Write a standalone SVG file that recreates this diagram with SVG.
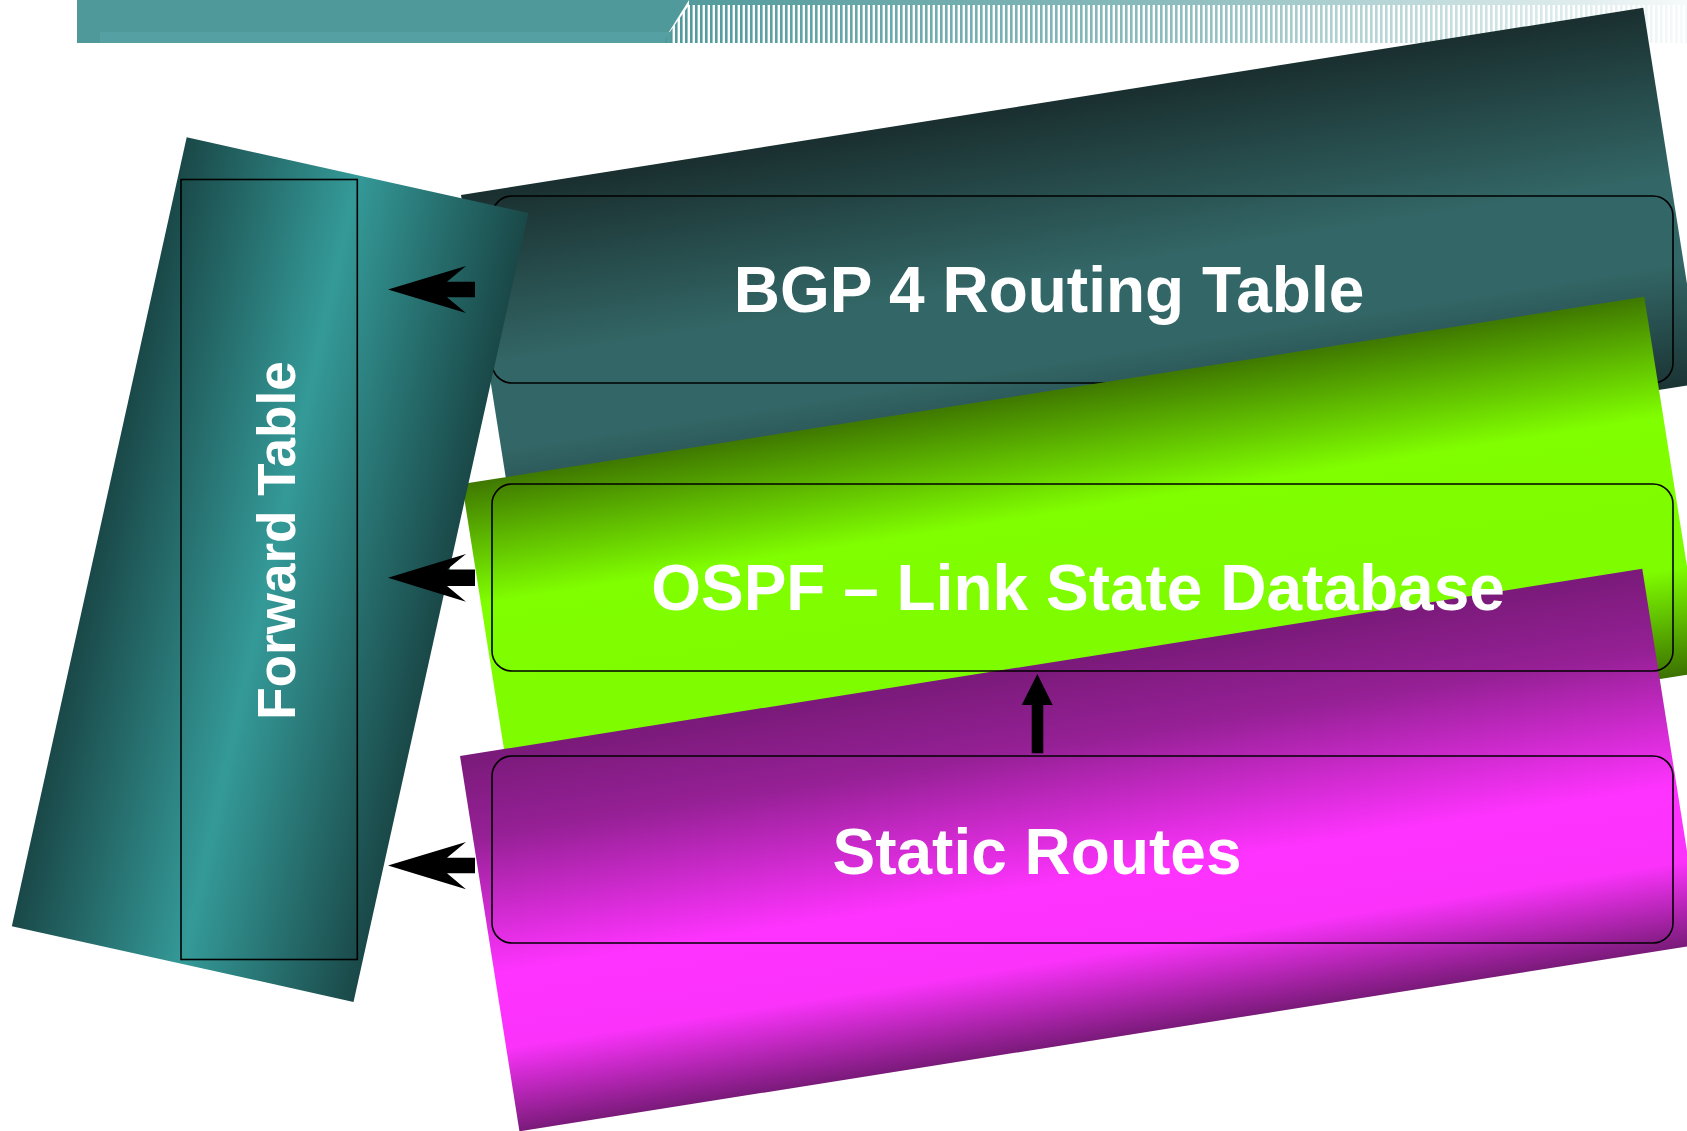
<svg xmlns="http://www.w3.org/2000/svg" width="1687" height="1131" viewBox="0 0 1687 1131">
  <defs>
    <linearGradient id="gBgp" x1="0" y1="0" x2="0" y2="1">
      <stop offset="0" stop-color="#1a2f2f"/>
      <stop offset="0.45" stop-color="#336666"/>
      <stop offset="0.68" stop-color="#336666"/>
      <stop offset="1" stop-color="#1b3434"/>
    </linearGradient>
    <linearGradient id="gOspf" x1="0" y1="0" x2="0" y2="1">
      <stop offset="0" stop-color="#3f7800"/>
      <stop offset="0.32" stop-color="#80ff00"/>
      <stop offset="0.72" stop-color="#7efc00"/>
      <stop offset="1" stop-color="#3c7200"/>
    </linearGradient>
    <linearGradient id="gStatic" x1="0" y1="0" x2="0" y2="1">
      <stop offset="0" stop-color="#7a1a7a"/>
      <stop offset="0.22" stop-color="#962096"/>
      <stop offset="0.58" stop-color="#ff33ff"/>
      <stop offset="0.78" stop-color="#fa32fa"/>
      <stop offset="1" stop-color="#7a1a7a"/>
    </linearGradient>
    <linearGradient id="gFwd" x1="0" y1="0" x2="1" y2="0">
      <stop offset="0" stop-color="#1a4848"/>
      <stop offset="0.5" stop-color="#349a98"/>
      <stop offset="1" stop-color="#1a4848"/>
    </linearGradient>
    <linearGradient id="gFade" x1="0" y1="0" x2="1" y2="0">
      <stop offset="0" stop-color="#ffffff" stop-opacity="0"/>
      <stop offset="0.5" stop-color="#ffffff" stop-opacity="0.35"/>
      <stop offset="1" stop-color="#ffffff" stop-opacity="0.95"/>
    </linearGradient>
    <pattern id="stripes" x="0" y="0" width="5" height="10" patternUnits="userSpaceOnUse">
      <rect x="0" y="0" width="2.6" height="10" fill="#4f999b"/>
    </pattern>
  </defs>
  <style>
    .box { fill: none; stroke: #000000; stroke-width: 1.6; }
    .lbl { font-family: "Liberation Sans", Arial, sans-serif; font-weight: bold; font-size: 64px; fill: #ffffff; text-anchor: middle; }
    .arrow { fill: #000000; stroke: none; }
  </style>

  <!-- top bar -->
  <g id="topbar">
    <polygon points="77,0 689,0 662,43 77,43" fill="#4f999b"/>
    <rect x="100" y="32" width="570" height="11" fill="#55a0a2"/>
    <polygon points="689,5 1687,5 1687,43 662,43" fill="url(#stripes)"/>
    <rect x="689" y="0" width="998" height="5" fill="#4f999b"/>
    <rect x="662" y="0" width="1025" height="43" fill="url(#gFade)"/>
  </g>

  <!-- BGP slab and box -->
  <g id="bgp">
    <rect width="1197" height="380" fill="url(#gBgp)" transform="translate(461,195) rotate(-9)"/>
    <rect class="box" x="492" y="196" width="1181" height="187" rx="20" ry="20"/>
  </g>

  <!-- OSPF slab -->
  <g id="ospf-slab">
    <rect width="1197" height="380" fill="url(#gOspf)" transform="translate(462,484) rotate(-9)"/>
  </g>

  <!-- Static slab -->
  <g id="static-slab">
    <rect width="1197" height="380" fill="url(#gStatic)" transform="translate(460,756) rotate(-9)"/>
  </g>

  <g id="ospf">
    <rect class="box" x="492" y="484" width="1181" height="187" rx="20" ry="20"/>
  </g>
  <g id="static">
    <rect class="box" x="492" y="756" width="1181" height="187" rx="20" ry="20"/>
  </g>

  <!-- Forward table -->
  <g id="forward">
    <rect width="350" height="808" fill="url(#gFwd)" transform="translate(186.7,137.3) rotate(12.5)"/>
    <rect class="box" x="181" y="179.5" width="176.3" height="780"/>
    <text class="lbl" style="font-size:53px" transform="translate(295,540.5) rotate(-90)">Forward Table</text>
  </g>

  <!-- labels -->
  <text class="lbl" x="1049" y="312">BGP 4 Routing Table</text>
  <text class="lbl" x="1078" y="610">OSPF – Link State Database</text>
  <text class="lbl" x="1037" y="874">Static Routes</text>

  <!-- connectors -->
  <g id="connectors">
    <polygon class="arrow" points="388,289.5 466,266 447,281.7 475,281.7 475,297.3 447,297.3 466,313"/>
    <polygon class="arrow" points="388,577.7 466,554 447,569.5 475,569.5 475,586 447,586 466,601.7"/>
    <polygon class="arrow" points="388,865.5 466,842 447,857.7 475,857.7 475,873.3 447,873.3 466,889.3"/>
    <polygon class="arrow" points="1037.3,674 1052.7,705 1043.3,705 1043.3,753.3 1031.7,753.3 1031.7,705 1021.7,705"/>
  </g>
</svg>
